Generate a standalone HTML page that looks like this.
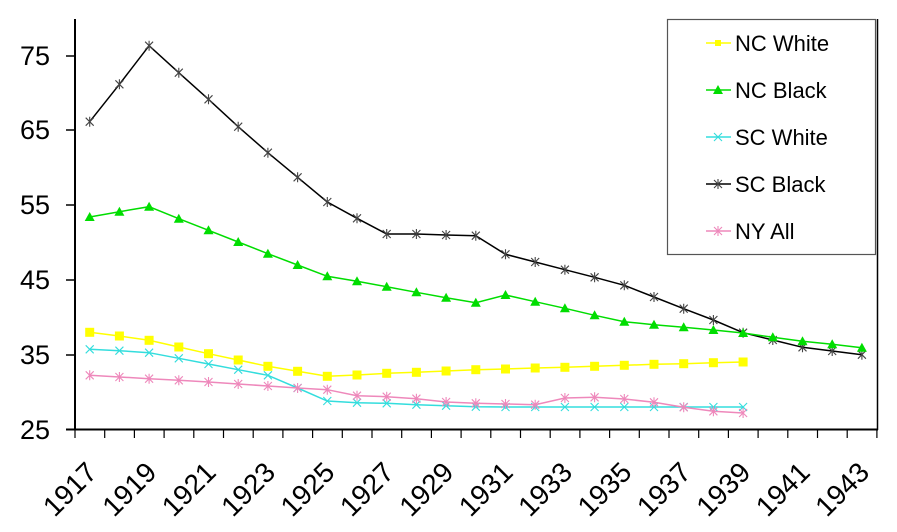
<!DOCTYPE html>
<html><head><meta charset="utf-8"><style>
html,body{margin:0;padding:0;background:#fff;}
svg{display:block;font-family:"Liberation Sans",Arial,sans-serif;}
</style></head><body>
<svg width="897" height="532" viewBox="0 0 897 532" xmlns="http://www.w3.org/2000/svg">
<defs>
<g id="sq"><rect x="-4.5" y="-4.5" width="9" height="9" fill="#ffff00"/></g>
<g id="tri"><polygon points="0,-5 5,4 -5,4" fill="#00dd00"/></g>
<g id="ast"><path d="M-4,-4L4,4M-4,4L4,-4M0,-5V5" stroke="#444" stroke-width="1.1"/></g>
<g id="xc"><path d="M-4,-4L4,4M-4,4L4,-4" stroke="#33dddd" stroke-width="1.1"/></g>
<g id="pk"><path d="M-4,-4L4,4M-4,4L4,-4M0,-5V5" stroke="#ee88bb" stroke-width="1.1"/></g>
</defs>
<line x1="75" y1="19" x2="75" y2="430" stroke="#000" stroke-width="2"/>
<line x1="66" y1="429.5" x2="878" y2="429.5" stroke="#000" stroke-width="2"/>
<line x1="877.5" y1="19" x2="877.5" y2="430" stroke="#000" stroke-width="1.5"/>
<g stroke="#000" stroke-width="1.5">
<line x1="66" y1="355" x2="75" y2="355"/><line x1="66" y1="280" x2="75" y2="280"/>
<line x1="66" y1="205" x2="75" y2="205"/><line x1="66" y1="130" x2="75" y2="130"/>
<line x1="66" y1="56" x2="75" y2="56"/>
</g>
<g id="xt" stroke="#000" stroke-width="1.2"></g>
<g font-size="27" text-anchor="end" fill="#000">
<text x="50" y="439">25</text><text x="50" y="364">35</text><text x="50" y="289">45</text>
<text x="50" y="214">55</text><text x="50" y="139">65</text><text x="50" y="65">75</text>
</g>
<g id="xl" font-size="28" text-anchor="end" fill="#000"></g>
<g id="series"></g>
<rect x="667.5" y="19.5" width="208" height="235" fill="#fff" stroke="#555" stroke-width="1.2"/>
<g font-size="22" fill="#000">
<line x1="706" y1="43" x2="731" y2="43" stroke="#ffff00" stroke-width="1.5"/><rect x="715" y="40" width="6" height="6" fill="#ffff00"/>
<text x="735" y="51">NC White</text>
<line x1="706" y1="90" x2="731" y2="90" stroke="#00dd00" stroke-width="1.5"/><use href="#tri" x="718" y="90"/>
<text x="735" y="98">NC Black</text>
<line x1="706" y1="137" x2="731" y2="137" stroke="#33dddd" stroke-width="1.5"/><use href="#xc" x="718" y="137"/>
<text x="735" y="145">SC White</text>
<line x1="706" y1="184" x2="731" y2="184" stroke="#000" stroke-width="1.5"/><use href="#ast" x="718" y="184"/>
<text x="735" y="192">SC Black</text>
<line x1="706" y1="231" x2="731" y2="231" stroke="#ee88bb" stroke-width="1.5"/><use href="#pk" x="718" y="231"/>
<text x="735" y="239">NY All</text>
</g>
<script>
var ns="http://www.w3.org/2000/svg";
function X(n){return 89.7+29.7*n;}
var xt=document.getElementById('xt');
for(var i=0;i<=27;i++){var l=document.createElementNS(ns,'line');var x=75+29.7*i;l.setAttribute('x1',x);l.setAttribute('x2',x);l.setAttribute('y1',430);l.setAttribute('y2',438);xt.appendChild(l);}
var xl=document.getElementById('xl');
for(var n=0;n<=26;n+=2){var t=document.createElementNS(ns,'text');var x=X(n)+9,y=474;t.setAttribute('x',x);t.setAttribute('y',y);t.setAttribute('transform','rotate(-45 '+x+' '+y+')');t.textContent=1917+n;xl.appendChild(t);}
var S=[
["#000","ast",[121.7,84.3,45.7,72.7,99.3,126.7,152.7,177.3,202,218.3,234,234,235,235.7,254.3,262,269.7,277.3,285.3,297,308.7,320,332.7,340,347.3,351,354.7]],
["#00dd00","tri",[217,211.7,206.7,218.7,230.3,242,253.7,265,276.3,281.3,286.7,292.3,297.7,302.7,295,301.7,308.3,315.3,321.7,324.7,327.3,330,333,337.3,341.3,344.3,347.7]],
["#ffff00","sq",[332.3,336,340.3,347,353.7,360,366.3,371.3,376.3,375,373.3,372.3,371,369.7,369,368,367.3,366.3,365.3,364.3,363.7,362.7,362]],
["#33dddd","xc",[349.3,350.7,352.7,358.3,364,369.7,375.3,388,401,402.7,403.3,404.7,405.7,406.7,407,407,407,407,407,407,407,407,407]],
["#ee88bb","pk",[375.3,377,378.7,380.3,382,384,386,388,389.7,395.7,396.7,398.7,402,403.3,404,404.7,398,397.3,399,402.3,407.3,411.3,413]]
];
var g=document.getElementById('series');
S.forEach(function(s){var p=document.createElementNS(ns,'polyline');p.setAttribute('points',s[2].map(function(v,i){return X(i)+','+v;}).join(' '));p.setAttribute('fill','none');p.setAttribute('stroke',s[0]);p.setAttribute('stroke-width','1.5');g.appendChild(p);
s[2].forEach(function(v,i){var u=document.createElementNS(ns,'use');u.setAttribute('href','#'+s[1]);u.setAttribute('x',X(i));u.setAttribute('y',v);g.appendChild(u);});});
</script>
</svg>
</body></html>
